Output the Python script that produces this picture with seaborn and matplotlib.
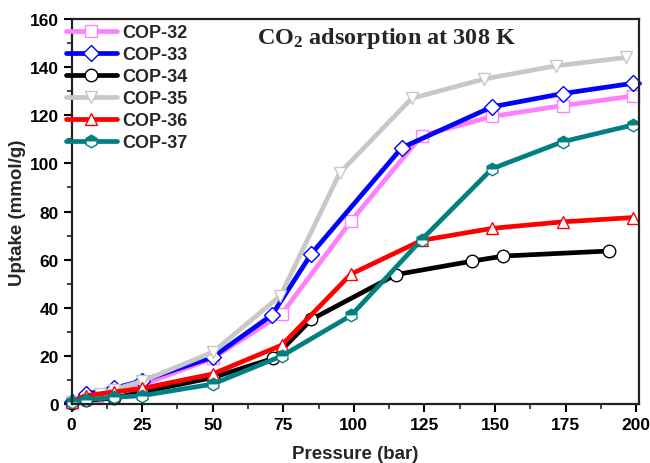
import matplotlib
matplotlib.use("Agg")
import matplotlib.pyplot as plt
import seaborn as sns
import pandas as pd

sns.set_theme(style="ticks")
plt.rcParams["font.family"] = ["Liberation Sans", "DejaVu Sans"]
plt.rcParams["font.weight"] = "bold"
plt.rcParams["mathtext.default"] = "regular"

# Pressure (bar) and CO2 uptake (mmol/g) for each polymer
p_cop32 = [0, 9, 15, 25, 50, 74.5, 99, 124, 149, 174, 199]
u_cop32 = [1, 3.5, 5, 8, 19, 37.5, 76, 111.5, 119.5, 124, 128]

p_cop33 = [0, 5, 15, 25, 50, 71, 85, 117, 149, 174, 199]
u_cop33 = [1, 4, 6.5, 9.7, 19.5, 37, 62.5, 106.5, 123.5, 129, 133.3]

p_cop34 = [0, 5, 15, 25, 50, 71.5, 85, 115, 142, 153, 190.5]
u_cop34 = [0.5, 1.5, 2.5, 5, 11, 19, 35.2, 53.8, 59.4, 61.5, 63.6]

p_cop35 = [0, 10, 15, 25, 50, 74, 95, 120.5, 146, 171.5, 196.5]
u_cop35 = [1, 4, 6, 9.5, 21.5, 45, 96, 127, 135, 140.5, 144]

p_cop36 = [0, 5, 15, 25, 50, 74.5, 99, 124, 149, 174, 199]
u_cop36 = [1, 3.5, 5, 6.5, 12.5, 24.5, 54, 68, 73, 75.7, 77.5]

p_cop37 = [0, 5, 15, 25, 50, 74.5, 99, 124, 149, 174, 199]
u_cop37 = [0.8, 1.8, 2.8, 3.5, 8.3, 20, 36.8, 68.3, 97.8, 109, 116]

series = [
    ("COP-32", p_cop32, u_cop32, "#FF80FF", "s", {}),
    ("COP-33", p_cop33, u_cop33, "#0000FF", "D", {}),
    ("COP-34", p_cop34, u_cop34, "#000000", "o", {}),
    ("COP-35", p_cop35, u_cop35, "#C8C8C8", "v", {}),
    ("COP-36", p_cop36, u_cop36, "#FF0000", "^", {}),
    ("COP-37", p_cop37, u_cop37, "#008080", "h",
     {"fillstyle": "top", "markerfacecoloralt": "white"}),
]

fig = plt.figure(figsize=(6.5, 4.64), dpi=100)
ax = fig.add_axes([0.110, 0.127, 0.873, 0.830])

for name, p, u, col, mk, extra in series:
    df = pd.DataFrame({"Pressure": p, "Uptake": u})
    face = col if extra else "white"
    sns.lineplot(data=df, x="Pressure", y="Uptake", ax=ax, sort=False,
                 estimator=None, color=col, lw=3.4, marker=mk,
                 markersize=9 if mk != "D" else 8, markerfacecolor=face,
                 markeredgecolor=col, markeredgewidth=1.0, label=name,
                 clip_on=False, **extra)

ax.set_xlim(0, 201)
ax.set_ylim(0, 160)
ax.set_xticks(range(0, 201, 25))
ax.set_xticks([12.5 + 25 * i for i in range(8)], minor=True)
ax.set_yticks(range(0, 161, 20))
ax.set_yticks(range(10, 160, 20), minor=True)
ax.tick_params(which="major", direction="out", length=6, width=1.5,
               labelsize=12.5, colors="black", pad=3)
ax.tick_params(which="minor", direction="out", length=3.5, width=1.2)
for lab in ax.get_xticklabels() + ax.get_yticklabels():
    lab.set_fontweight("bold")
for sp in ax.spines.values():
    sp.set_visible(True)
    sp.set_linewidth(1.6)
    sp.set_color("#222222")

ax.set_xlabel("Pressure (bar)", fontsize=13.5, fontweight="bold", labelpad=10)
ax.set_ylabel("Uptake (mmol/g)", fontsize=13.5, fontweight="bold", labelpad=3)

ax.text(0.556, 0.985, "CO$_2$ adsorption at 308 K", transform=ax.transAxes,
        ha="center", va="top", fontsize=17.5, fontweight="bold",
        family=["Liberation Serif", "DejaVu Serif"])

leg = ax.legend(loc="upper left", bbox_to_anchor=(66 / 650, 1 - 25 / 464),
                bbox_transform=fig.transFigure, frameon=False, borderpad=0,
                borderaxespad=0, handlelength=2.8, handletextpad=0.3,
                labelspacing=0.28, numpoints=1,
                prop={"size": 13, "weight": "bold"})

fig.savefig("out.png", dpi=100)
